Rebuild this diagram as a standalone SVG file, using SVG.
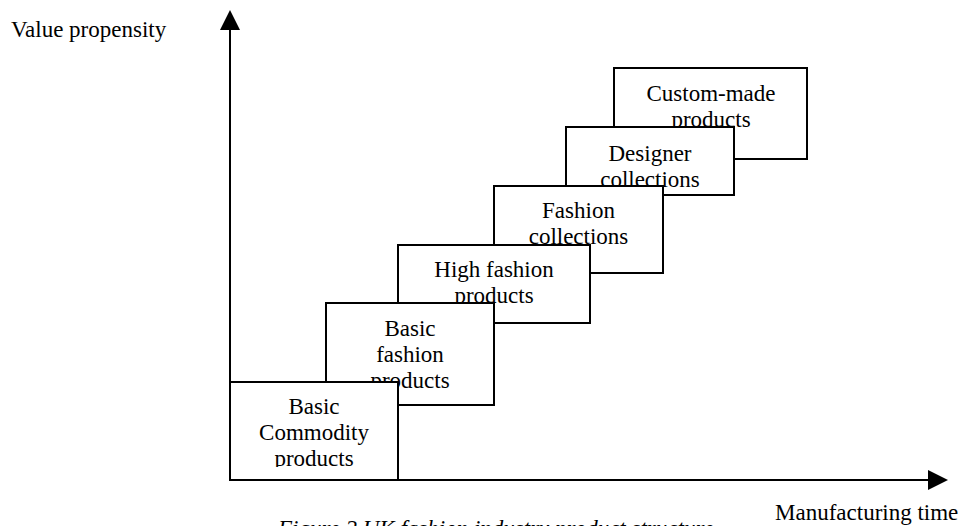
<svg xmlns="http://www.w3.org/2000/svg" width="972" height="526" viewBox="0 0 972 526">
  <defs>
    <style>
      .box { fill: #ffffff; stroke: #000000; stroke-width: 2; }
      .axis { stroke: #000000; stroke-width: 2; fill: none; }
      .head { fill: #000000; stroke: none; }
      .lbl { font-family: "Liberation Serif", "Times New Roman", serif; font-size: 23px; fill: #000000; }
      .mid { text-anchor: middle; }
      .cap { font-style: italic; }
    </style>
    <!-- text of the bottom box stops short of its lower edge -->
    <clipPath id="clipCommodity">
      <rect x="230" y="382" width="168" height="85"/>
    </clipPath>
  </defs>

  <rect width="972" height="526" fill="#ffffff"/>

  <!-- axes -->
  <g id="connectors">
    <line class="axis" x1="230" y1="480" x2="230" y2="28"/>
    <polygon class="head" points="230,10 240,30 220,30"/>
    <line class="axis" x1="229" y1="480" x2="929" y2="480"/>
    <polygon class="head" points="948,480 928,470 928,490"/>
  </g>

  <!-- axis titles -->
  <text id="axis-y-label" class="lbl" x="11" y="37">Value propensity</text>
  <text id="axis-x-label" class="lbl" x="775" y="520">Manufacturing time</text>

  <!-- product tiers, drawn from the top step down so lower steps overlap -->
  <g id="custom-made">
    <rect class="box" x="614" y="68" width="193" height="91"/>
    <text class="lbl mid" x="711" y="101">Custom-made</text>
    <text class="lbl mid" x="711" y="127">products</text>
  </g>

  <g id="designer-collections">
    <rect class="box" x="566" y="127" width="168" height="68"/>
    <text class="lbl mid" x="650" y="161">Designer</text>
    <text class="lbl mid" x="650" y="187">collections</text>
  </g>

  <g id="fashion-collections">
    <rect class="box" x="494" y="186" width="169" height="87"/>
    <text class="lbl mid" x="578.5" y="218">Fashion</text>
    <text class="lbl mid" x="578.5" y="244">collections</text>
  </g>

  <g id="high-fashion">
    <rect class="box" x="398" y="245" width="192" height="78"/>
    <text class="lbl mid" x="494" y="277">High fashion</text>
    <text class="lbl mid" x="494" y="303">products</text>
  </g>

  <g id="basic-fashion">
    <rect class="box" x="326" y="303" width="168" height="102"/>
    <text class="lbl mid" x="410" y="336">Basic</text>
    <text class="lbl mid" x="410" y="362">fashion</text>
    <text class="lbl mid" x="410" y="388">products</text>
  </g>

  <g id="basic-commodity">
    <rect class="box" x="230" y="382" width="168" height="98"/>
    <g clip-path="url(#clipCommodity)">
      <text class="lbl mid" x="314" y="414">Basic</text>
      <text class="lbl mid" x="314" y="440">Commodity</text>
      <text class="lbl mid" x="314" y="466">products</text>
    </g>
  </g>

  <!-- figure caption, running off the lower edge -->
  <text id="caption" class="lbl cap" x="278" y="536">Figure 2 UK fashion industry product structure</text>
</svg>
